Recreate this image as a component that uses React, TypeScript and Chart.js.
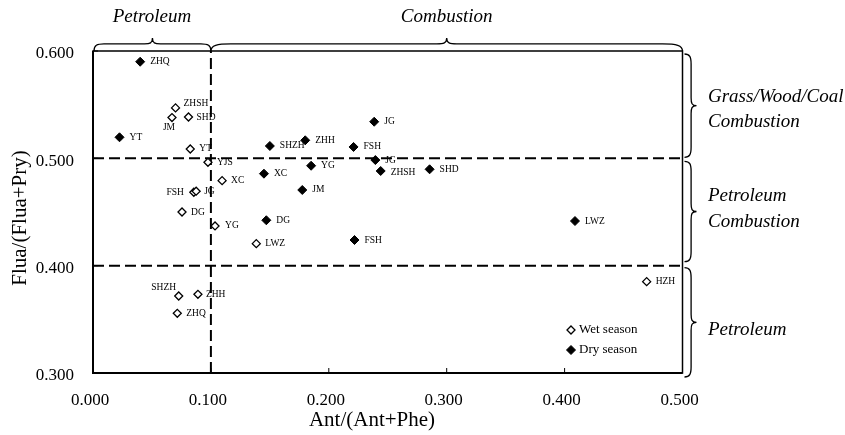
import React, { useEffect, useRef } from 'react';
import { Chart, registerables } from 'chart.js';

Chart.register(...registerables);

// ---- data ----
const wetSites = ['ZHSH', 'JM', 'SHD', 'YT', 'YJS', 'XC', 'FSH', 'JG', 'DG', 'YG', 'LWZ', 'SHZH', 'ZHH', 'ZHQ', 'HZH'];
const wetAnt = [0.070, 0.067, 0.081, 0.0825, 0.0975, 0.1095, 0.0855, 0.0875, 0.0755, 0.1035, 0.1385, 0.0727, 0.089, 0.0715, 0.4696];
const wetFlua = [0.547, 0.538, 0.5385, 0.5087, 0.4963, 0.4792, 0.4684, 0.4694, 0.450, 0.437, 0.4205, 0.3717, 0.3733, 0.3556, 0.3851];

const drySites = ['ZHQ', 'YT', 'SHZH', 'ZHH', 'JG', 'FSH', 'JG', 'YG', 'XC', 'ZHSH', 'SHD', 'JM', 'DG', 'FSH', 'LWZ'];
const dryAnt = [0.040, 0.0225, 0.150, 0.180, 0.2385, 0.221, 0.2395, 0.185, 0.145, 0.244, 0.2855, 0.1775, 0.147, 0.2218, 0.4088];
const dryFlua = [0.590, 0.5196, 0.5115, 0.5168, 0.5341, 0.5106, 0.4984, 0.4931, 0.4857, 0.4882, 0.4898, 0.4705, 0.4423, 0.4239, 0.4416];

const fluaThresholds = [0.5, 0.4];
const antThreshold = 0.1;
const xMin = 0, xMax = 0.5, yMin = 0.3, yMax = 0.6;

const seriesNames = ['Wet season', 'Dry season'];
const topZones = ['Petroleum', 'Combustion'];
const rightZones = [['Grass/Wood/Coal', 'Combustion'], ['Petroleum', 'Combustion'], ['Petroleum']];
const xTitle = 'Ant/(Ant+Phe)';
const yTitle = 'Flua/(Flua+Pry)';

// ---- label placement (style) ----
type Place = [number, number, CanvasTextAlign];
const wetPlace: Place[] = [
  [8, -4, 'left'], [-3, 10, 'center'], [8, 0, 'left'], [9, 0, 'left'], [9, 0, 'left'],
  [9, 0, 'left'], [-10, 0, 'right'], [8, 0, 'left'], [9, 0, 'left'], [10, 0, 'left'],
  [9, 0, 'left'], [-15, -9, 'center'], [8, 0, 'left'], [9, 0, 'left'], [9, 0, 'left'],
];
const dryPlace: Place[] = drySites.map((s, i) => (i === 9 ? [10, 2, 'left'] : [10, 0, 'left']) as Place);

const SERIF = '"Liberation Serif", "Times New Roman", serif';

function drawBrace(ctx: CanvasRenderingContext2D, x1: number, y1: number, x2: number, y2: number, h: number, rEnd: number, rTip: number) {
  const dx = x2 - x1, dy = y2 - y1;
  const L = Math.hypot(dx, dy), a = Math.atan2(dy, dx);
  ctx.save();
  ctx.translate(x1, y1);
  ctx.rotate(a);
  const m = L / 2, f = -h * 0.55;
  ctx.beginPath();
  ctx.moveTo(0, 0);
  ctx.bezierCurveTo(0, f * 0.8, rEnd * 0.3, f, rEnd, f);
  ctx.lineTo(m - rTip, f);
  ctx.bezierCurveTo(m - rTip * 0.3, f, m, f * 1.1, m, -h);
  ctx.bezierCurveTo(m, f * 1.1, m + rTip * 0.3, f, m + rTip, f);
  ctx.lineTo(L - rEnd, f);
  ctx.bezierCurveTo(L - rEnd * 0.3, f, L, f * 0.8, L, 0);
  ctx.stroke();
  ctx.restore();
}

const decorPlugin = {
  id: 'decor',
  beforeDraw(chart: any) {
    const { ctx } = chart;
    ctx.save();
    ctx.fillStyle = '#fff';
    ctx.fillRect(0, 0, chart.width, chart.height);
    ctx.restore();
  },
  afterDatasetsDraw(chart: any) {
    const { ctx, chartArea: ca, scales } = chart;
    const xs = scales.x, ys = scales.y;
    ctx.save();
    // point labels
    ctx.fillStyle = '#000';
    ctx.font = `9.5px ${SERIF}`;
    ctx.textBaseline = 'middle';
    const sets: [number, string[], Place[]][] = [[0, wetSites, wetPlace], [1, drySites, dryPlace]];
    sets.forEach(([di, names, place]) => {
      const meta = chart.getDatasetMeta(di);
      meta.data.forEach((pt: any, i: number) => {
        const [dx, dy, al] = place[i];
        ctx.textAlign = al;
        ctx.fillText(names[i], pt.x + dx, pt.y + dy);
      });
    });

    // frame
    ctx.strokeStyle = '#000';
    ctx.lineWidth = 1.5;
    ctx.strokeRect(ca.left, ca.top, ca.right - ca.left, ca.bottom - ca.top);
    ctx.lineWidth = 2;
    ctx.beginPath();
    ctx.moveTo(ca.left, ca.top);
    ctx.lineTo(ca.left, ca.bottom);
    ctx.lineTo(ca.right, ca.bottom);
    ctx.stroke();
    // inward tick marks
    ctx.lineWidth = 1;
    ctx.beginPath();
    xs.ticks.forEach((t: any) => {
      const px = xs.getPixelForValue(t.value);
      ctx.moveTo(px, ca.bottom);
      ctx.lineTo(px, ca.bottom - 5);
    });
    ys.ticks.forEach((t: any) => {
      const py = ys.getPixelForValue(t.value);
      ctx.moveTo(ca.left, py);
      ctx.lineTo(ca.left + 5, py);
    });
    ctx.stroke();

    // legend
    const legY = [330, 350];
    const legX = 571;
    legY.forEach((ly, i) => {
      const ds = chart.data.datasets[i];
      ctx.save();
      ctx.strokeStyle = '#000';
      ctx.fillStyle = ds.backgroundColor;
      ctx.lineWidth = ds.borderWidth;
      const r = ds.pointRadius;
      ctx.beginPath();
      ctx.moveTo(legX, ly - r);
      ctx.lineTo(legX + r, ly);
      ctx.lineTo(legX, ly + r);
      ctx.lineTo(legX - r, ly);
      ctx.closePath();
      ctx.fill();
      ctx.stroke();
      ctx.restore();
      ctx.fillStyle = '#000';
      ctx.font = `13px ${SERIF}`;
      ctx.textAlign = 'left';
      ctx.textBaseline = 'middle';
      ctx.fillText(seriesNames[i], legX + 8, ly);
    });

    // braces
    const xT = xs.getPixelForValue(antThreshold);
    const y5 = ys.getPixelForValue(fluaThresholds[0]);
    const y4 = ys.getPixelForValue(fluaThresholds[1]);
    ctx.lineWidth = 1.3;
    ctx.strokeStyle = '#000';
    drawBrace(ctx, ca.left + 1, ca.top, xT, ca.top, 13, 10, 8);
    drawBrace(ctx, xT, ca.top, ca.right, ca.top, 13, 20, 10);
    const rx = ca.right + 2;
    drawBrace(ctx, rx, ca.top + 3, rx, y5 - 1, 12, 10, 8);
    drawBrace(ctx, rx, y5 + 3, rx, y4 - 4, 12, 10, 8);
    drawBrace(ctx, rx, y4 + 2, rx, ca.bottom + 4, 12, 10, 8);

    // zone texts
    ctx.fillStyle = '#000';
    ctx.font = `italic 19px ${SERIF}`;
    ctx.textBaseline = 'middle';
    ctx.textAlign = 'center';
    ctx.fillText(topZones[0], (ca.left + xT) / 2, 17);
    ctx.fillText(topZones[1], (xT + ca.right) / 2, 17);
    ctx.textAlign = 'left';
    const tx = 708;
    const zoneY = [[97, 122], [196, 222], [330]];
    rightZones.forEach((lines, i) => {
      lines.forEach((line, j) => ctx.fillText(line, tx, zoneY[i][j]));
    });

    // axis titles
    ctx.font = `21px ${SERIF}`;
    ctx.textAlign = 'center';
    ctx.fillText(xTitle, 372, 420);
    ctx.save();
    ctx.translate(20, 218);
    ctx.rotate(-Math.PI / 2);
    ctx.fillText(yTitle, 0, 0);
    ctx.restore();
    ctx.restore();
  },
};

export default function App() {
  const ref = useRef<HTMLCanvasElement>(null);
  useEffect(() => {
    const wetPts = wetAnt.map((x, i) => ({ x, y: wetFlua[i] }));
    const dryPts = dryAnt.map((x, i) => ({ x, y: dryFlua[i] }));
    const dashed = {
      type: 'line' as const,
      showLine: true,
      pointRadius: 0,
      borderColor: '#000',
      borderWidth: 2,
      borderDash: [11, 5],
      fill: false,
      order: 10,
    };
    const chart = new Chart(ref.current!, {
      type: 'scatter',
      data: {
        datasets: [
          {
            label: seriesNames[0], data: wetPts, pointStyle: 'rectRot', pointRadius: 4,
            backgroundColor: '#fff', borderColor: '#000', borderWidth: 1.3, order: 1,
          } as any,
          {
            label: seriesNames[1], data: dryPts, pointStyle: 'rectRot', pointRadius: 4.5,
            backgroundColor: '#000', borderColor: '#000', borderWidth: 1, order: 1,
          } as any,
          { ...dashed, data: [{ x: xMin, y: fluaThresholds[0] }, { x: xMax, y: fluaThresholds[0] }] } as any,
          { ...dashed, data: [{ x: xMin, y: fluaThresholds[1] }, { x: xMax, y: fluaThresholds[1] }] } as any,
          { ...dashed, data: [{ x: antThreshold, y: yMin }, { x: antThreshold, y: yMax }] } as any,
        ],
      },
      options: {
        responsive: false,
        animation: false,
        events: [],
        layout: { padding: { left: 0, top: 51, right: 162.5, bottom: 0 } },
        plugins: { legend: { display: false }, tooltip: { enabled: false }, title: { display: false } },
        scales: {
          x: {
            type: 'linear', min: xMin, max: xMax,
            grid: { display: false, drawTicks: false },
            border: { display: false },
            ticks: {
              stepSize: 0.1, color: '#000', padding: 17, labelOffset: -3,
              font: { family: SERIF, size: 17 },
              callback: (v: any) => Number(v).toFixed(3),
            },
            afterFit: (s: any) => { s.height = 62; },
          },
          y: {
            type: 'linear', min: yMin, max: yMax,
            grid: { display: false, drawTicks: false },
            border: { display: false },
            ticks: {
              stepSize: 0.1, color: '#000', padding: 19, labelOffset: 3,
              font: { family: SERIF, size: 17 },
              callback: (v: any) => Number(v).toFixed(3),
            },
            afterFit: (s: any) => { s.width = 93; },
          },
        },
      },
      plugins: [decorPlugin],
    });
    return () => chart.destroy();
  }, []);
  return (
    <div style={{ position: 'absolute', left: 0, top: 0, width: 845, height: 435, background: '#fff' }}>
      <canvas ref={ref} width={845} height={435} style={{ display: 'block' }} />
    </div>
  );
}
